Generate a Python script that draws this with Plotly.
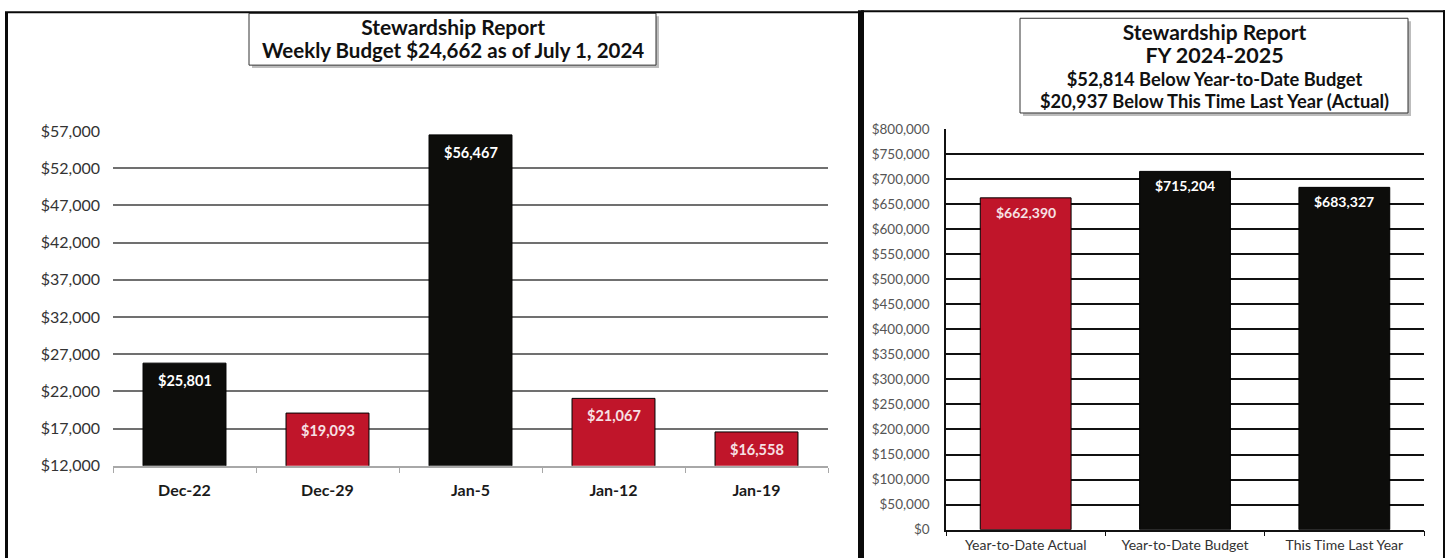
import plotly.graph_objects as go

W, H = 1449, 558

# ---- data ----
weeks = ["Dec-22", "Dec-29", "Jan-5", "Jan-12", "Jan-19"]
weekly_values = [25801, 19093, 56467, 21067, 16558]
weekly_colors = ["black", "red", "black", "red", "red"]
weekly_ticks = [12000, 17000, 22000, 27000, 32000, 37000, 42000, 47000, 52000, 57000]

ytd_categories = ["Year-to-Date Actual", "Year-to-Date Budget", "This Time Last Year"]
ytd_values = [662390, 715204, 683327]
ytd_colors = ["red", "black", "black"]
ytd_ticks = list(range(0, 800001, 50000))

left_title = ["Stewardship Report", "Weekly Budget $24,662 as of July 1, 2024"]
right_title = ["Stewardship Report", "FY 2024-2025",
               "$52,814 Below Year-to-Date Budget",
               "$20,937 Below This Time Last Year (Actual)"]

RED = "#C0152A"
BLK = "#0D0D0B"
cmap = {"red": RED, "black": BLK}
tcol = {"red": "#F6E1E4", "black": "#FFFFFF"}
FONT = "Lato"

# the capture maps page y to picture y as about 0.969*y + 8.7; place things in page pixels
SY, OY = 0.969, 8.7


def px(x):
    return x / W


def py(y):
    """picture-pixel y (from top) -> paper fraction"""
    return 1 - ((y - OY) / SY) / H


fig = go.Figure()

fig.add_trace(go.Bar(
    x=weeks, y=weekly_values, marker_color=[cmap[c] for c in weekly_colors],
    marker_line_color="#000000", marker_line_width=1, width=0.58,
    xaxis="x", yaxis="y", hoverinfo="skip", showlegend=False))

fig.add_trace(go.Bar(
    x=ytd_categories, y=ytd_values, marker_color=[cmap[c] for c in ytd_colors],
    marker_line_color="#000000", marker_line_width=1, width=0.57,
    xaxis="x2", yaxis="y2", hoverinfo="skip", showlegend=False))

annotations = []
for cat, v, c in zip(weeks, weekly_values, weekly_colors):
    annotations.append(dict(x=cat, y=v, xref="x", yref="y", text=f"${v:,}",
                            showarrow=False, yanchor="middle", yshift=-17.5,
                            font=dict(family=FONT, size=14.5, color=tcol[c], weight="bold")))
for cat, v, c in zip(ytd_categories, ytd_values, ytd_colors):
    annotations.append(dict(x=cat, y=v, xref="x2", yref="y2", text=f"${v:,}",
                            showarrow=False, yanchor="middle", yshift=-14.5,
                            font=dict(family=FONT, size=14, color=tcol[c], weight="bold")))

# title texts (one multi-line text per box)
annotations.append(dict(
    x=px(452.5), y=py(36.5), xref="paper", yref="paper", xanchor="center", yanchor="middle",
    text=(f"<span style='font-size:21px'>{left_title[0]}</span><br>"
          f"<span style='font-size:20.5px'>{left_title[1]}</span>"),
    showarrow=False, align="center",
    font=dict(family=FONT, size=17.5, color="#111111", weight="bold")))
annotations.append(dict(
    x=px(1214), y=py(64), xref="paper", yref="paper", xanchor="center", yanchor="middle",
    text=(f"<span style='font-size:21px'>{right_title[0]}</span><br>"
          f"<span style='font-size:21.5px'>{right_title[1]}</span><br>"
          f"<span style='font-size:18.3px'>{right_title[2]}</span><br>"
          f"<span style='font-size:18.3px'>{right_title[3]}</span>"),
    showarrow=False, align="center",
    font=dict(family=FONT, size=17.5, color="#111111", weight="bold")))

shapes = []


def rect(x0, y0, x1, y1, fill, lc=None, lw=0):
    return dict(type="rect", xref="paper", yref="paper", x0=px(x0), x1=px(x1), y0=py(y1), y1=py(y0),
                line=dict(color=lc or fill, width=lw), fillcolor=fill, layer="above")


# title boxes with soft shadows
shapes.append(rect(252, 15, 659, 67, "#BDBDBD"))
shapes.append(rect(249, 12, 656, 64, "white", "#333333", 1))
shapes.append(rect(1023, 20, 1411, 115, "#BDBDBD"))
shapes.append(rect(1020, 17, 1408, 112, "white", "#333333", 1))


def line(x0, y0, x1, y1, w):
    return dict(type="line", xref="paper", yref="paper", x0=px(x0), y0=py(y0), x1=px(x1), y1=py(y1),
                line=dict(color="#0A0A0A", width=w), layer="above")


# panel borders
shapes += [
    line(6.5, 11, 6.5, 580, 3),
    line(5, 11, 861, 11, 2),
    line(861, 9, 861, 580, 6),
    line(861, 10, 1445, 10, 2),
    line(1444, 9, 1444, 580, 2),
]

fig.update_layout(
    width=W, height=H, autosize=False, margin=dict(l=0, r=0, t=0, b=0),
    paper_bgcolor="white", plot_bgcolor="white",
    bargap=0.42, showlegend=False,
    annotations=annotations, shapes=shapes,
    xaxis=dict(domain=[px(113), px(828)], anchor="y", showgrid=False,
               showline=True, linecolor="#A8A8A8", linewidth=1.5,
               ticks="outside", tickson="boundaries", ticklen=5, tickcolor="#A8A8A8",
               ticklabelstandoff=9,
               tickfont=dict(family=FONT, size=16, color="#1A1A1A", weight="bold")),
    yaxis=dict(domain=[py(466), py(130)], anchor="x", range=[12000, 57000],
               tickvals=weekly_ticks, ticktext=[f"${t:,}" for t in weekly_ticks],
               showgrid=True, gridcolor="#707070", gridwidth=1.5,
               showline=False, ticks="", ticklabelstandoff=12, zeroline=False,
               tickfont=dict(family=FONT, size=16, color="#333333")),
    xaxis2=dict(domain=[px(946), px(1424)], anchor="y2", showgrid=False,
                showline=True, linecolor="#111111", linewidth=1.5,
                ticks="outside", tickson="boundaries", ticklen=5, tickcolor="#111111",
                ticklabelstandoff=2,
                tickfont=dict(family=FONT, size=14, color="#333333")),
    yaxis2=dict(domain=[py(530), py(128)], anchor="x2", range=[0, 800000],
                tickvals=ytd_ticks, ticktext=[f"${t:,}" for t in ytd_ticks],
                showgrid=True, gridcolor="#111111", gridwidth=1.5,
                showline=True, linecolor="#111111", linewidth=1.5,
                ticks="", ticklabelstandoff=12, zeroline=False,
                tickfont=dict(family=FONT, size=13.5, color="#555555")),
)

post = ("document.documentElement.style.margin='0';document.body.style.margin='0';"
        "document.documentElement.style.overflow='hidden';document.body.style.overflow='hidden';"
        "var d=document.getElementById('{plot_id}');d.style.position='fixed';"
        "d.style.top='0px';d.style.left='0px';")

fig.write_html("out.html", config={"responsive": False, "displayModeBar": False},
               post_script=post)
